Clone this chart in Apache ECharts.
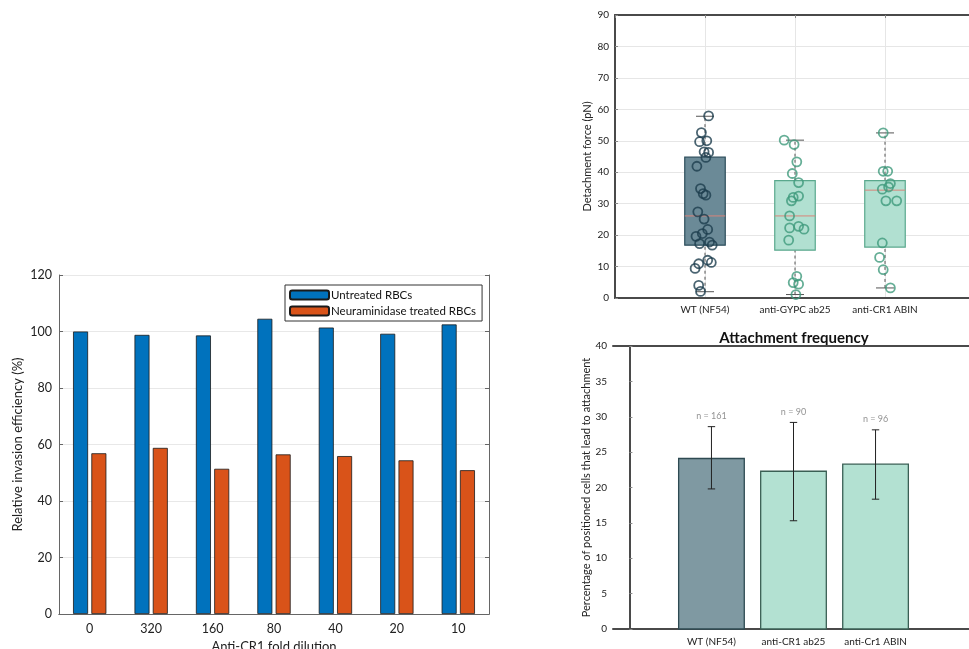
<!DOCTYPE html>
<html>
<head>
<meta charset="utf-8">
<script src="https://cdn.jsdelivr.net/npm/echarts@6/dist/echarts.min.js"></script>
<style>html,body{margin:0;padding:0;background:#fff;}#main{width:969px;height:649px;}</style>
</head>
<body>
<div id="main"></div>
<script>
// ---- Panel A: invasion efficiency ----
const dilutions = ['0', '320', '160', '80', '40', '20', '10'];
const untreated = [100, 98.8, 98.6, 104.5, 101.4, 99.2, 102.5];
const neuraminidase = [56.9, 58.8, 51.4, 56.5, 55.9, 54.4, 50.9];
const invasionTicks = [0, 20, 40, 60, 80, 100, 120];

// ---- Panel B: detachment force ----
const forceGroups = ['WT (NF54)', 'anti-GYPC ab25', 'anti-CR1 ABIN'];
// [min whisker, Q1, median, Q3, max whisker]
const forceBoxStats = [
  [2.0, 16.8, 26.1, 44.8, 57.8],
  [1.1, 15.2, 26.1, 37.3, 50.2],
  [3.2, 16.2, 34.3, 37.3, 52.5]
];
const wtForce = [57.9, 52.6, 49.7, 50.0, 46.5, 46.3, 44.7, 41.9, 34.8, 33.2, 32.7, 27.4, 25.1, 21.8, 20.5, 19.6, 17.8, 17.3, 16.8, 12.0, 11.3, 10.9, 9.4, 4.0, 2.1];
const wtJitter = [0.04, -0.04, -0.06, 0.02, -0.01, 0.04, 0.01, -0.09, -0.05, -0.02, 0.01, -0.08, -0.01, 0.03, -0.03, -0.10, 0.05, -0.06, 0.08, 0.03, 0.07, -0.07, -0.11, -0.07, -0.05];
const gypcForce = [50.2, 48.8, 43.3, 39.6, 36.7, 32.4, 32.0, 30.9, 26.1, 22.3, 22.8, 21.9, 18.4, 6.9, 4.9, 4.4, 1.1];
const gypcJitter = [-0.12, -0.01, 0.02, -0.03, 0.04, 0.04, -0.02, -0.04, -0.06, -0.06, 0.04, 0.10, -0.07, 0.02, -0.02, 0.04, 0.01];
const cr1Force = [52.5, 40.3, 40.3, 36.4, 35.3, 34.6, 30.9, 30.9, 17.5, 12.9, 9.0, 3.2];
const cr1Jitter = [-0.02, -0.02, 0.03, 0.06, 0.04, -0.03, 0.01, 0.13, -0.03, -0.06, -0.02, 0.06];
const forceTicks = [0, 10, 20, 30, 40, 50, 60, 70, 80, 90];

// ---- Panel C: attachment frequency ----
const freqGroups = ['WT (NF54)', 'anti-CR1 ab25', 'anti-Cr1 ABIN'];
const freqMean = [24.1, 22.3, 23.3];
const freqLow = [19.8, 15.3, 18.35];
const freqHigh = [28.6, 29.2, 28.15];
const freqN = [161, 90, 96];
const freqTicks = [0, 5, 10, 15, 20, 25, 30, 35, 40];

const FONT = 'Lato';
const boxFill = ['#6b8a97', '#b1e0d1', '#b1e0d1'];
const boxEdge = ['#2d4e5c', '#5aa88d', '#5aa88d'];
const dotColor = ['#1d3d4d', '#3f9a7c', '#3f9a7c'];
const barFill = ['#7f99a2', '#b3e1d2', '#b3e1d2'];
const barEdge = ['#2e4a52', '#3a5f54', '#3a5f54'];

const chart = echarts.init(document.getElementById('main'), null, {renderer: 'canvas'});

function renderBox(params, api) {
  const i = params.dataIndex;
  const x = api.value(0);
  const mn = api.value(1), q1 = api.value(2), md = api.value(3), q3 = api.value(4), mx = api.value(5);
  const hw = 0.225, cw = 0.1;
  const c = (a, b) => api.coord([a, b]);
  const dash = {stroke: '#555', lineWidth: 1, lineDash: [3, 3]};
  const capS = {stroke: '#555', lineWidth: 1};
  const tl = c(x - hw, q3), br = c(x + hw, q1);
  const pMn = c(x, mn), pQ1 = c(x, q1), pQ3 = c(x, q3), pMx = c(x, mx);
  const cl1 = c(x - cw, mn), cr1 = c(x + cw, mn), cl2 = c(x - cw, mx), cr2 = c(x + cw, mx);
  const ml = c(x - hw, md), mr = c(x + hw, md);
  return {
    type: 'group',
    children: [
      {type: 'line', shape: {x1: pMn[0], y1: pMn[1], x2: pQ1[0], y2: pQ1[1]}, style: dash},
      {type: 'line', shape: {x1: pQ3[0], y1: pQ3[1], x2: pMx[0], y2: pMx[1]}, style: dash},
      {type: 'line', shape: {x1: cl1[0], y1: cl1[1], x2: cr1[0], y2: cr1[1]}, style: capS},
      {type: 'line', shape: {x1: cl2[0], y1: cl2[1], x2: cr2[0], y2: cr2[1]}, style: capS},
      {type: 'rect', shape: {x: tl[0], y: tl[1], width: br[0] - tl[0], height: br[1] - tl[1]},
        style: {fill: boxFill[i], stroke: boxEdge[i], lineWidth: 1.2}},
      {type: 'line', shape: {x1: ml[0], y1: ml[1], x2: mr[0], y2: mr[1]}, style: {stroke: '#d9857a', lineWidth: 1}}
    ]
  };
}

function renderFreqBar(params, api) {
  const i = params.dataIndex;
  const x = api.value(0), v = api.value(1);
  const tl = api.coord([x - 0.4, v]), br = api.coord([x + 0.4, 0]);
  return {type: 'rect', shape: {x: tl[0], y: tl[1], width: br[0] - tl[0], height: br[1] - tl[1]},
    style: {fill: barFill[i], stroke: barEdge[i], lineWidth: 1.3}};
}

function renderErr(params, api) {
  const x = api.value(0), lo = api.value(1), hi = api.value(2);
  const cw = 0.045;
  const a = api.coord([x, lo]), b = api.coord([x, hi]);
  const l1 = api.coord([x - cw, lo]), r1 = api.coord([x + cw, lo]);
  const l2 = api.coord([x - cw, hi]), r2 = api.coord([x + cw, hi]);
  const s = {stroke: '#222', lineWidth: 1};
  return {type: 'group', children: [
    {type: 'line', shape: {x1: a[0], y1: a[1], x2: b[0], y2: b[1]}, style: s},
    {type: 'line', shape: {x1: l1[0], y1: l1[1], x2: r1[0], y2: r1[1]}, style: s},
    {type: 'line', shape: {x1: l2[0], y1: l2[1], x2: r2[0], y2: r2[1]}, style: s}
  ]};
}

function dots(vals, jit, gi) {
  return vals.map((v, k) => [gi + 1 + jit[k], v]);
}

const thinLine = {show: true, lineStyle: {color: '#666', width: 1}};
const thickLine = {show: true, lineStyle: {color: '#4a4a4a', width: 2}};

const option = {
  animation: false,
  textStyle: {fontFamily: FONT},
  grid: [
    {left: 59, top: 275, width: 430, height: 339, outerBoundsMode: 'none', containLabel: false},
    {left: 615, top: 15, width: 360, height: 283, outerBoundsMode: 'none', containLabel: false},
    {left: 613, top: 346, width: 361, height: 283, outerBoundsMode: 'none', containLabel: false}
  ],
  graphic: [{
    type: 'text', x: 794, y: 338,
    style: {text: 'Attachment frequency', font: 'bold 15px ' + FONT, fill: '#111', textAlign: 'center', textVerticalAlign: 'middle'}
  }],
  legend: {
    data: ['Untreated RBCs', 'Neuraminidase treated RBCs'],
    orient: 'vertical', left: 285, top: 285,
    itemWidth: 39, itemHeight: 9, itemGap: 4,
    padding: [4, 6, 4, 4],
    borderColor: '#333', borderWidth: 1, backgroundColor: '#fff',
    selectedMode: false,
    textStyle: {fontSize: 11.5, color: '#111', padding: [0, 0, 0, -3]}
  },
  xAxis: [
    {type: 'category', gridIndex: 0, data: dilutions, position: 'bottom',
      axisLine: thinLine, axisTick: {inside: true, alignWithLabel: true, length: 4, lineStyle: {color: '#666'}},
      axisLabel: {fontSize: 12.5, color: '#222', margin: 8},
      name: 'Anti-CR1 fold dilution', nameLocation: 'middle', nameGap: 23,
      nameTextStyle: {fontSize: 13, color: '#222'}},
    {type: 'category', gridIndex: 0, data: dilutions, position: 'top',
      axisLine: thinLine, axisTick: {inside: true, alignWithLabel: true, length: 4, lineStyle: {color: '#666'}},
      axisLabel: {show: false}},
    {type: 'value', gridIndex: 1, min: 0, max: 4, interval: 1, position: 'bottom',
      axisLine: thickLine, axisTick: {show: false},
      splitLine: {show: true, lineStyle: {color: '#e6e6e6'}},
      axisLabel: {fontSize: 10, color: '#222', margin: 7, formatter: v => forceGroups[v - 1] || ''}},
    {type: 'value', gridIndex: 1, min: 0, max: 4, interval: 1, position: 'top',
      axisLine: thickLine, axisTick: {show: true, inside: true, length: 3, lineStyle: {color: '#888'}},
      splitLine: {show: false}, axisLabel: {show: false}},
    {type: 'value', gridIndex: 2, min: -0.2, max: 4.2, position: 'bottom',
      axisLine: thickLine, axisTick: {show: false},
      splitLine: {show: false},
      axisLabel: {fontSize: 10, color: '#222', margin: 8, customValues: [1, 2, 3], formatter: v => freqGroups[Math.round(v) - 1] || ''}},
    {type: 'value', gridIndex: 2, min: -0.2, max: 4.2, position: 'top',
      axisLine: thickLine, axisTick: {show: false}, splitLine: {show: false}, axisLabel: {show: false}}
  ],
  yAxis: [
    {type: 'value', gridIndex: 0, min: invasionTicks[0], max: invasionTicks[invasionTicks.length - 1], interval: 20,
      axisLine: thinLine, axisTick: {show: true, inside: true, length: 4, lineStyle: {color: '#666'}},
      splitLine: {show: true, lineStyle: {color: '#e8e8e8'}},
      axisLabel: {fontSize: 12.5, color: '#222', margin: 7},
      name: 'Relative invasion efficiency (%)', nameLocation: 'middle', nameGap: 35,
      nameTextStyle: {fontSize: 13, color: '#222'}},
    {type: 'value', gridIndex: 0, position: 'right', min: 0, max: 120, interval: 20,
      axisLine: thinLine, axisTick: {show: true, inside: true, length: 4, lineStyle: {color: '#666'}},
      splitLine: {show: false}, axisLabel: {show: false}},
    {type: 'value', gridIndex: 1, min: forceTicks[0], max: forceTicks[forceTicks.length - 1], interval: 10,
      axisLine: thickLine, axisTick: {show: true, inside: true, length: 3, lineStyle: {color: '#888'}},
      splitLine: {show: true, lineStyle: {color: '#e6e6e6'}},
      axisLabel: {fontSize: 10, color: '#222', margin: 6},
      name: 'Detachment force (pN)', nameLocation: 'middle', nameGap: 22,
      nameTextStyle: {fontSize: 11, color: '#222'}},
    {type: 'value', gridIndex: 2, min: freqTicks[0], max: freqTicks[freqTicks.length - 1], interval: 5,
      axisLine: thickLine, axisTick: {show: true, inside: true, length: 3, lineStyle: {color: '#888'}},
      splitLine: {show: false},
      axisLabel: {fontSize: 10, color: '#222', margin: 6},
      name: 'Percentage of positioned cells that lead to attachment', nameLocation: 'middle', nameGap: 21,
      nameTextStyle: {fontSize: 11, color: '#222'}}
  ],
  series: [
    {name: 'Untreated RBCs', type: 'bar', xAxisIndex: 0, yAxisIndex: 0, data: untreated,
      barWidth: 15, barGap: '22%',
      itemStyle: {color: '#0072BD', borderColor: '#1a1a1a', borderWidth: 0.8}},
    {name: 'Neuraminidase treated RBCs', type: 'bar', xAxisIndex: 0, yAxisIndex: 0, data: neuraminidase,
      barWidth: 15, barGap: '22%',
      itemStyle: {color: '#D95319', borderColor: '#1a1a1a', borderWidth: 0.8}},
    {type: 'custom', xAxisIndex: 2, yAxisIndex: 2, renderItem: renderBox,
      encode: {x: 0, y: [1, 2, 3, 4, 5]},
      data: forceBoxStats.map((s, i) => [i + 1].concat(s)), z: 2},
    {type: 'scatter', xAxisIndex: 2, yAxisIndex: 2, data: dots(wtForce, wtJitter, 0), symbol: 'circle', symbolSize: 9,
      itemStyle: {color: 'rgba(0,0,0,0)', borderColor: dotColor[0], borderWidth: 1.8}, z: 3},
    {type: 'scatter', xAxisIndex: 2, yAxisIndex: 2, data: dots(gypcForce, gypcJitter, 1), symbol: 'circle', symbolSize: 9,
      itemStyle: {color: 'rgba(0,0,0,0)', borderColor: dotColor[1], borderWidth: 1.8}, z: 3},
    {type: 'scatter', xAxisIndex: 2, yAxisIndex: 2, data: dots(cr1Force, cr1Jitter, 2), symbol: 'circle', symbolSize: 9,
      itemStyle: {color: 'rgba(0,0,0,0)', borderColor: dotColor[2], borderWidth: 1.8}, z: 3},
    {type: 'custom', xAxisIndex: 4, yAxisIndex: 3, renderItem: renderFreqBar,
      encode: {x: 0, y: 1},
      data: freqMean.map((v, i) => [i + 1, v]), z: 2},
    {type: 'custom', xAxisIndex: 4, yAxisIndex: 3, renderItem: renderErr,
      encode: {x: 0, y: [1, 2]},
      data: freqMean.map((v, i) => [i + 1, freqLow[i], freqHigh[i]]), z: 3},
    {type: 'scatter', xAxisIndex: 4, yAxisIndex: 3, symbolSize: 0,
      data: freqN.map((n, i) => ({value: [i + 1, freqHigh[i] + 1.5], n: n})),
      label: {show: true, position: 'inside', fontSize: 9, color: '#777',
        formatter: p => 'n = ' + p.data.n}, z: 4}
  ]
};
chart.setOption(option);
</script>
</body>
</html>
